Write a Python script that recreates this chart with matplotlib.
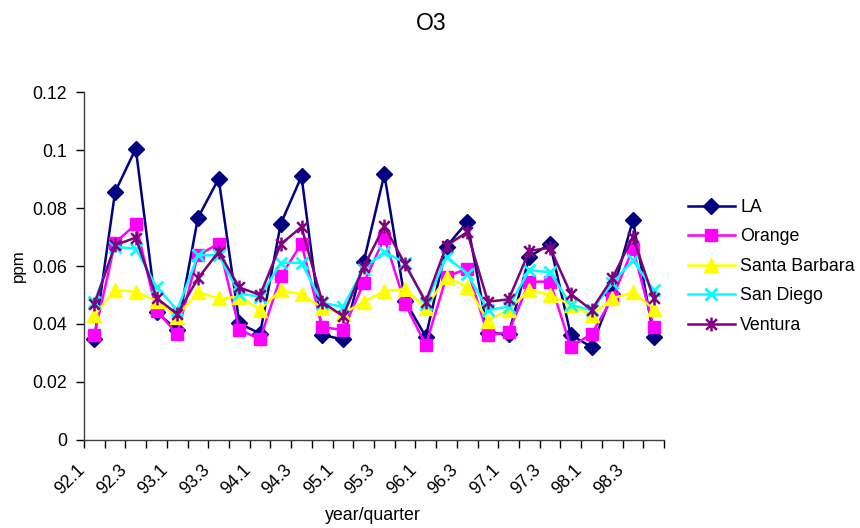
import matplotlib
matplotlib.use("Agg")
import matplotlib.pyplot as plt
from matplotlib.path import Path

plt.rcParams['font.family'] = ['Liberation Sans', 'DejaVu Sans']

quarters = ["92.1", "92.2", "92.3", "92.4", "93.1", "93.2", "93.3", "93.4",
            "94.1", "94.2", "94.3", "94.4", "95.1", "95.2", "95.3", "95.4",
            "96.1", "96.2", "96.3", "96.4", "97.1", "97.2", "97.3", "97.4",
            "98.1", "98.2", "98.3", "98.4"]

la = [0.035, 0.0855, 0.1005, 0.044, 0.038, 0.0766, 0.0901, 0.0402, 0.0367, 0.0746,
      0.0909, 0.0362, 0.0347, 0.0614, 0.0916, 0.048, 0.0356, 0.0667, 0.0752, 0.037,
      0.0365, 0.0632, 0.0676, 0.0362, 0.0321, 0.0505, 0.0758, 0.0356]
orange = [0.0362, 0.068, 0.0744, 0.0446, 0.0366, 0.0637, 0.0677, 0.0381, 0.0347, 0.0565,
          0.0677, 0.039, 0.0379, 0.054, 0.0697, 0.0469, 0.0328, 0.0563, 0.0591, 0.0362,
          0.0372, 0.0546, 0.0546, 0.0322, 0.0365, 0.0488, 0.066, 0.039]
santa_barbara = [0.043, 0.0517, 0.0511, 0.048, 0.0425, 0.0511, 0.0488, 0.0494, 0.045, 0.0517,
                 0.0502, 0.0456, 0.0436, 0.0476, 0.0514, 0.052, 0.0455, 0.0563, 0.0528, 0.0412,
                 0.045, 0.0517, 0.0501, 0.0465, 0.043, 0.0488, 0.0509, 0.0453]
san_diego = [0.0476, 0.0666, 0.066, 0.0528, 0.0448, 0.0637, 0.0637, 0.0505, 0.0494, 0.0611,
             0.0611, 0.0473, 0.0459, 0.0591, 0.0649, 0.061, 0.047, 0.0632, 0.0574, 0.0448,
             0.046, 0.0586, 0.0578, 0.0466, 0.0448, 0.054, 0.062, 0.0517]
ventura = [0.0468, 0.0672, 0.0698, 0.049, 0.0434, 0.0557, 0.0649, 0.0526, 0.05, 0.0675,
           0.0735, 0.0476, 0.0427, 0.0597, 0.0738, 0.0606, 0.0477, 0.067, 0.0717, 0.0477,
           0.0485, 0.0652, 0.0663, 0.0504, 0.0448, 0.0557, 0.07, 0.0488]

series_names = ["LA", "Orange", "Santa Barbara", "San Diego", "Ventura"]
series_data = [la, orange, santa_barbara, san_diego, ventura]

star = Path([(-1, -1), (1, 1), (-1, 1), (1, -1), (0, -1.3), (0, 1.3)],
            [Path.MOVETO, Path.LINETO, Path.MOVETO, Path.LINETO, Path.MOVETO, Path.LINETO])

styles = [
    dict(color='#000080', marker='D', ms=8.5, mfc='#000080', mec='#000080'),
    dict(color='#FF00FF', marker='s', ms=9, mfc='#FF00FF', mec='#FF00FF'),
    dict(color='#FFFF00', marker='^', ms=9.5, mfc='#FFFF00', mec='#FFFF00'),
    dict(color='#00FFFF', marker='x', ms=9, mew=2, mec='#00FFFF'),
    dict(color='#800080', marker=star, ms=10, mew=1.8, mfc='none', mec='#800080'),
]

FS = 12.8

fig = plt.figure(figsize=(8.6, 5.28), dpi=100)
ax = fig.add_axes([84/860, 1-440/528, (664-84)/860, (440-92)/528])

x = list(range(len(quarters)))
handles = []
for name, data, st in zip(series_names, series_data, styles):
    h, = ax.plot(x, data, lw=1.8, label=name, **st)
    handles.append(h)

ax.set_xlim(-0.5, len(quarters) - 0.5)
ax.set_ylim(0, 0.12)
ax.set_yticks([0, 0.02, 0.04, 0.06, 0.08, 0.1, 0.12])
ax.set_yticklabels(["0", "0.02", "0.04", "0.06", "0.08", "0.1", "0.12"], fontsize=FS)

ax.set_xticks([i - 0.5 for i in range(len(quarters) + 1)])
ax.set_xticklabels([])
for i in x[::2]:
    ax.text(i - 0.86, -0.0075, quarters[i], rotation=45, ha='right', va='top',
            rotation_mode='anchor', fontsize=FS, transform=ax.transData)

ax.tick_params(axis='both', direction='out', length=6, width=1, colors='black', pad=6)
for s in ['top', 'right']:
    ax.spines[s].set_visible(False)
for s in ['left', 'bottom']:
    ax.spines[s].set_color('#404040')
    ax.spines[s].set_linewidth(1)

fig.text(431/860, 1-24/528, "O3", ha='center', va='center', fontsize=16.5)
fig.text(373/860, 1-515/528, "year/quarter", ha='center', va='center', fontsize=FS)
fig.text(18/860, 1-266/528, "ppm", ha='center', va='center', rotation=90, fontsize=FS * 0.95)

fig.legend(handles=handles, loc='upper left', bbox_to_anchor=(688/860, 1-199/528),
           frameon=False, fontsize=FS, handlelength=2.64, handletextpad=0.3,
           labelspacing=0.7, borderpad=0, borderaxespad=0)

fig.savefig("out.png", dpi=100)
